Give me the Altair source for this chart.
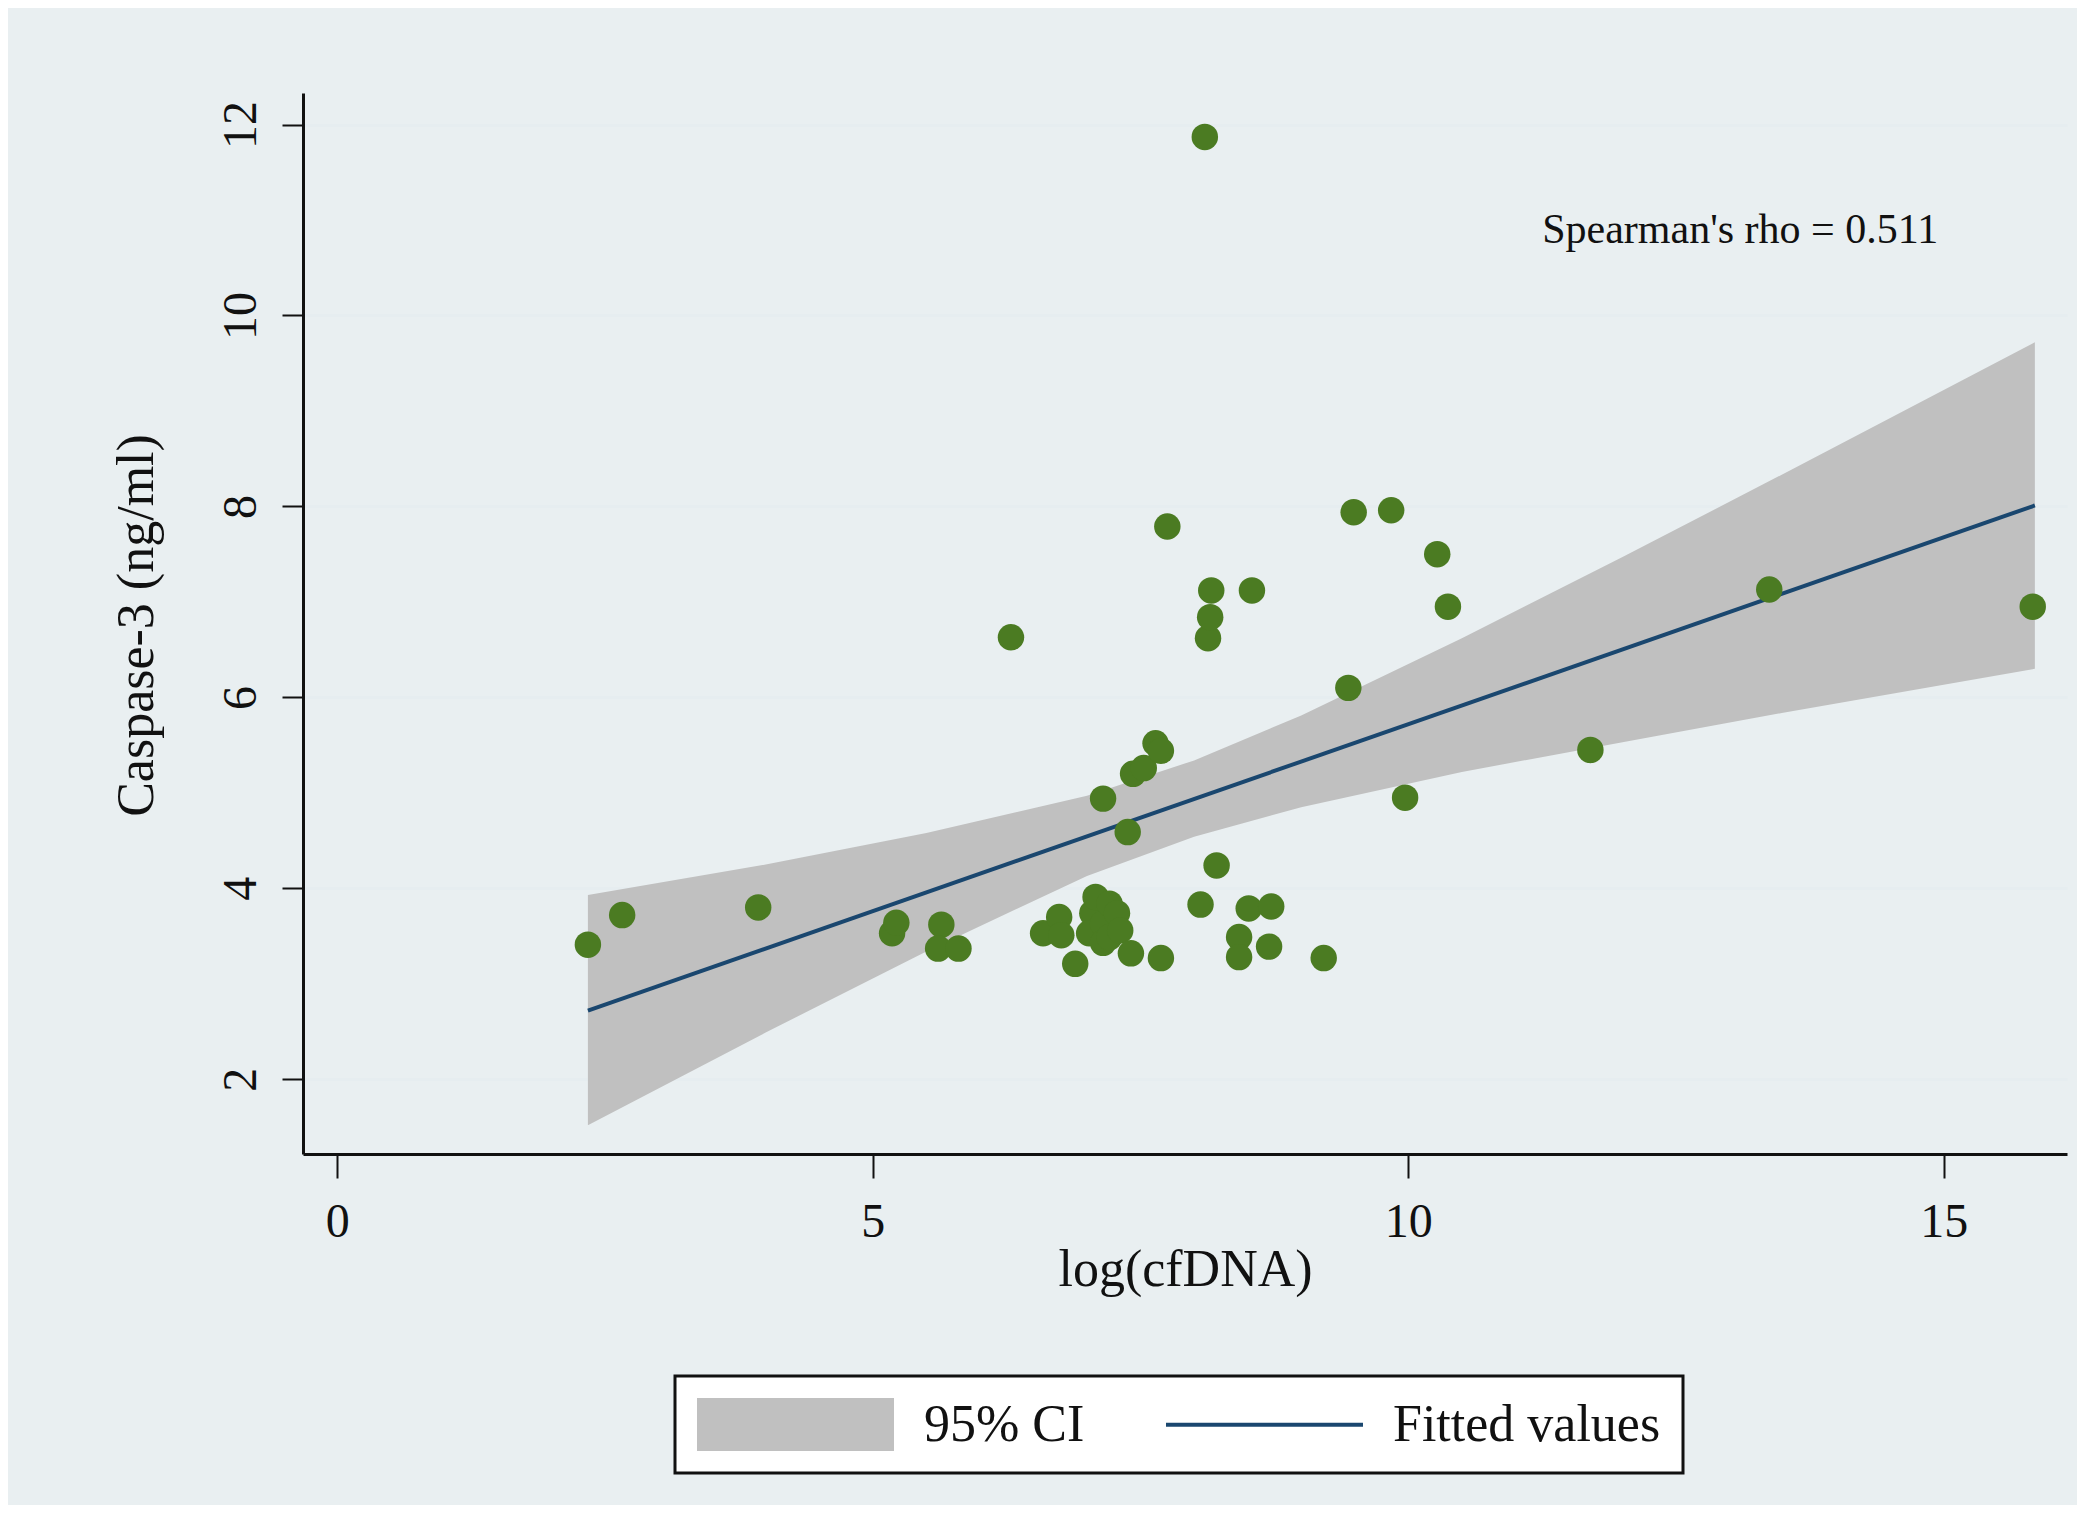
import altair as alt
import pandas as pd

# ---- data ----
x_vals = [2.34, 2.66, 3.93, 5.18, 5.22, 5.64, 5.61, 5.80, 6.29, 6.59,
          6.74, 6.76, 6.89, 7.05, 7.08, 7.02, 7.15, 7.15, 7.21, 7.21,
          7.28, 7.31, 7.41, 7.15, 7.38, 7.43, 7.53, 7.64, 7.69, 7.69,
          7.75, 8.06, 8.10, 8.13, 8.15, 8.16, 8.21, 8.42, 8.42, 8.51,
          8.54, 8.70, 8.72, 9.21, 9.44, 9.49, 9.84, 9.97, 10.27, 10.37,
          11.70, 13.37, 15.83]
y_vals = [3.41, 3.72, 3.80, 3.53, 3.64, 3.62, 3.37, 3.37, 6.63, 3.53,
          3.70, 3.51, 3.21, 3.74, 3.91, 3.53, 3.63, 3.43, 3.84, 3.49,
          3.74, 3.56, 3.32, 4.94, 4.59, 5.20, 5.26, 5.52, 5.44, 3.27,
          7.79, 3.83, 11.87, 6.62, 6.84, 7.12, 4.24, 3.49, 3.28, 3.79,
          7.12, 3.39, 3.81, 3.27, 6.10, 7.94, 7.96, 4.95, 7.50, 6.95,
          5.45, 7.13, 6.95]

band_x = [2.34, 4.0, 5.5, 7.0, 8.0, 9.0, 10.5, 12.0, 13.5, 15.85]
band_lo = [1.52, 2.49, 3.34, 4.13, 4.54, 4.85, 5.22, 5.53, 5.84, 6.30]
band_hi = [3.93, 4.25, 4.58, 4.97, 5.34, 5.81, 6.62, 7.47, 8.34, 9.72]

fit_x = [2.34, 15.85]
fit_y = [2.72, 8.01]

legend_labels = ["95% CI", "Fitted values"]
x_ticks = [0, 5, 10, 15]
y_ticks = [2, 4, 6, 8, 10, 12]

note_text = ["Spearman's rho = 0.511"]
note_x = [11.25]
note_y = [10.89]

# ---- styling ----
FONT = "Liberation Serif"
GREEN = "#4b7b22"
GRAY = "#c0c0c0"
NAVY = "#1a476f"
BG = "#e9eff1"

pts = pd.DataFrame({"x": x_vals, "y": y_vals})
band = pd.DataFrame({"x": band_x, "lo": band_lo, "hi": band_hi})
fit = pd.DataFrame({"x": fit_x, "y": fit_y})
note = pd.DataFrame({"x": note_x, "y": note_y, "t": note_text})
leg = pd.DataFrame({"series": legend_labels})

xscale = alt.Scale(domain=[-0.32, 16.15], nice=False, zero=False)
yscale = alt.Scale(domain=[1.218, 12.33], nice=False, zero=False)

x_axis = alt.Axis(
    values=x_ticks, format="d", title="log(cfDNA)", grid=False,
    tickSize=24, tickWidth=2, tickColor="#111",
    domainColor="#111", domainWidth=3,
    labelFont=FONT, labelFontSize=48, labelColor="#111",
    labelBaseline="alphabetic", labelPadding=58, labelFlush=False,
    titleFont=FONT, titleFontSize=52, titleFontWeight="normal", titleColor="#111",
    titleBaseline="alphabetic", titleY=131,
)
y_axis = alt.Axis(
    values=y_ticks, format="d", title="Caspase-3 (ng/ml)", grid=True,
    gridColor="#e6edf0", gridWidth=3,
    tickSize=21, tickWidth=2, tickColor="#111",
    domainColor="#111", domainWidth=3,
    labelFont=FONT, labelFontSize=48, labelColor="#111",
    labelAngle=270, labelAlign="center", labelBaseline="alphabetic",
    labelPadding=27, labelFlush=False,
    titleFont=FONT, titleFontSize=52, titleFontWeight="normal", titleColor="#111",
    titleAngle=270, titleAlign="center", titleBaseline="alphabetic",
    titleX=-151, titleY=532,
)

band_layer = alt.Chart(band).mark_area(color=GRAY, opacity=1).encode(
    x=alt.X("x:Q", scale=xscale, axis=x_axis),
    y=alt.Y("lo:Q", scale=yscale, axis=y_axis),
    y2="hi:Q",
)

line_layer = alt.Chart(fit).mark_line(color=NAVY, strokeWidth=4).encode(
    x=alt.X("x:Q", scale=xscale),
    y=alt.Y("y:Q", scale=yscale),
)

point_layer = alt.Chart(pts).mark_circle(size=700, color=GREEN, opacity=1).encode(
    x=alt.X("x:Q", scale=xscale),
    y=alt.Y("y:Q", scale=yscale),
)

note_layer = alt.Chart(note).mark_text(
    align="left", baseline="middle", font=FONT, fontSize=42, color="#111"
).encode(
    x=alt.X("x:Q", scale=xscale),
    y=alt.Y("y:Q", scale=yscale),
    text="t:N",
)

rect_path = "M-3.717,-1H3.717V1H-3.717Z"
line_path = "M-3.717,-0.075H3.717V0.075H-3.717Z"

legend_def = alt.Legend(
    title=None, orient="none", legendX=372, legendY=1283, direction="horizontal",
    labelFont=FONT, labelFontSize=52, labelColor="#111", labelLimit=1000,
    symbolOffset=72, labelOffset=102, columnPadding=80, padding=22,
    symbolStrokeWidth=0, symbolSize=2809,
    strokeColor="#111", fillColor="white",
)

legend_layer = alt.Chart(leg).transform_filter("false").mark_point(
    filled=True, size=2809, opacity=1
).encode(
    color=alt.Color("series:N", scale=alt.Scale(domain=legend_labels, range=[GRAY, NAVY]),
                    legend=legend_def),
    shape=alt.Shape("series:N", scale=alt.Scale(domain=legend_labels, range=[rect_path, line_path]),
                    legend=legend_def),
)

chart = alt.layer(band_layer, line_layer, point_layer, note_layer, legend_layer).properties(
    width=1764, height=1061,
    autosize=alt.AutoSizeParams(type="none"),
    padding={"left": 295, "top": 85, "right": 10, "bottom": 351},
    background=BG,
).configure_view(
    stroke=None, fill="white"
).configure_legend(
    strokeWidth=3
)

chart.save("out.html", embed_options={"renderer": "svg", "actions": False})
